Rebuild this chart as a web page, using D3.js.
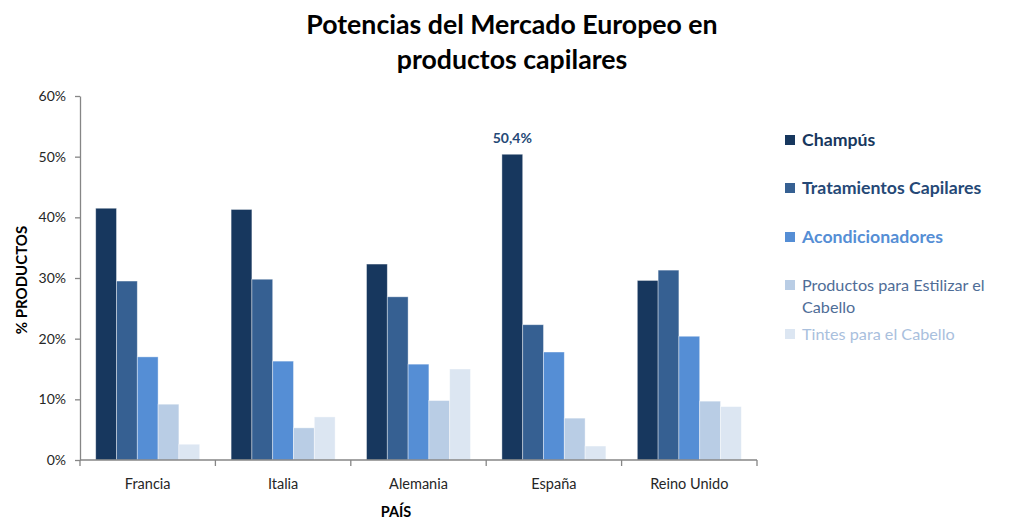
<!DOCTYPE html>
<html><head><meta charset="utf-8">
<script src="https://cdn.jsdelivr.net/npm/d3@7"></script>
<style>body{margin:0;background:#fff}svg{display:block}text{font-family:Lato,"Open Sans",sans-serif}</style>
</head><body><svg id="c" width="1024" height="528"></svg>
<script>
const categories = ["Francia","Italia","Alemania","España","Reino Unido"];
const seriesNames = ["Champús","Tratamientos Capilares","Acondicionadores","Productos para Estilizar el Cabello","Tintes para el Cabello"];
const champus = [41.5, 41.3, 32.3, 50.4, 29.6];
const tratamientos = [29.5, 29.8, 26.9, 22.3, 31.3];
const acondicionadores = [17.0, 16.3, 15.8, 17.8, 20.4];
const estilizar = [9.2, 5.3, 9.8, 6.9, 9.7];
const tintes = [2.6, 7.1, 15.0, 2.3, 8.8];
const yTicks = [0,10,20,30,40,50,60];
const seriesValues = [champus, tratamientos, acondicionadores, estilizar, tintes];
const colors = ["#17375E","#366092","#558ED5","#B9CDE5","#DCE6F2"];
const legendText = ["#17375E","#254876","#558ED5","#4F6D97","#A9C0DD"];
const legendWeight = ["bold","bold","bold","normal","normal"];

const svg = d3.select("#c");
const mLeft = 80, mRight = 757, mTop = 96, mBottom = 460;
const x0 = d3.scaleBand().domain(categories).range([mLeft, mRight]).padding(0);
const bw = x0.bandwidth();
const x1 = d3.scaleBand().domain(d3.range(5)).range([bw*0.116, bw*(1-0.116)]).padding(0);
const y = d3.scaleLinear().domain([0,60]).range([mBottom, mTop]);

// title
svg.append("text").attr("x",512).attr("y",34).attr("text-anchor","middle")
  .attr("font-size",26.7).attr("font-weight","bold").attr("fill","#000").text("Potencias del Mercado Europeo en");
svg.append("text").attr("x",512).attr("y",69).attr("text-anchor","middle")
  .attr("font-size",26.7).attr("font-weight","bold").attr("fill","#000").text("productos capilares");

// bars
const g = svg.append("g");
categories.forEach((c,i)=>{
  seriesValues.forEach((vals,s)=>{
    g.append("rect")
      .attr("x", x0(c)+x1(s)).attr("width", x1.bandwidth())
      .attr("y", y(vals[i])).attr("height", y(0)-y(vals[i]))
      .attr("fill", colors[s]).attr("stroke","#ffffff").attr("stroke-opacity",0.5).attr("stroke-width",0.8);
  });
});

// y axis
const yAxis = d3.axisLeft(y).tickValues(yTicks).tickFormat(d=>d+"%").tickSize(5).tickSizeOuter(0);
const ya = svg.append("g").attr("transform",`translate(${mLeft},0)`).call(yAxis);
ya.select(".domain").attr("stroke","#868686").attr("stroke-width",1.3);
ya.selectAll(".tick line").attr("stroke","#868686").attr("stroke-width",1.3);
ya.selectAll(".tick text").attr("font-size",14).attr("fill","#262626").attr("font-family","Lato").attr("x",-14);

// x axis
const xa = svg.append("g").attr("transform",`translate(0,${mBottom})`);
xa.append("line").attr("x1",mLeft).attr("x2",mRight).attr("y1",0).attr("y2",0).attr("stroke","#868686").attr("stroke-width",1.3);
const bounds = categories.map(c=>x0(c)).concat([mRight]);
bounds.forEach(b=>{
  xa.append("line").attr("x1",b).attr("x2",b).attr("y1",0).attr("y2",6).attr("stroke","#868686").attr("stroke-width",1.3);
});
categories.forEach(c=>{
  xa.append("text").attr("x",x0(c)+bw/2).attr("y",29).attr("text-anchor","middle")
    .attr("font-size",14.5).attr("fill","#262626").text(c);
});

// axis titles
svg.append("text").attr("x",396).attr("y",517).attr("text-anchor","middle").attr("font-size",14.5)
  .attr("font-weight","bold").attr("fill","#000").text("PAÍS");
svg.append("text").attr("transform","translate(27,280) rotate(-90)").attr("text-anchor","middle")
  .attr("font-size",15).attr("font-weight","bold").attr("fill","#000").text("% PRODUCTOS");

// data label
svg.append("text").attr("x", x0("España")+x1(0)+x1.bandwidth()/2).attr("y", y(champus[3])-11)
  .attr("text-anchor","middle").attr("font-size",14).attr("font-weight","bold").attr("fill","#254876").text("50,4%");

// legend
const legendY = [140,188,237,285,334];
seriesNames.forEach((n,i)=>{
  const lg = svg.append("g");
  lg.append("rect").attr("x",785).attr("y",legendY[i]-5).attr("width",10).attr("height",10).attr("fill",colors[i]);
  const t = lg.append("text").attr("x",802).attr("y",legendY[i]+6).attr("font-size",legendWeight[i]==="bold"?17.7:16.2)
    .attr("font-weight",legendWeight[i]).attr("fill",legendText[i]);
  if(i===3){
    t.append("tspan").attr("x",802).text("Productos para Estilizar el");
    t.append("tspan").attr("x",802).attr("dy",22).text("Cabello");
  } else t.text(n);
});
</script></body></html>
